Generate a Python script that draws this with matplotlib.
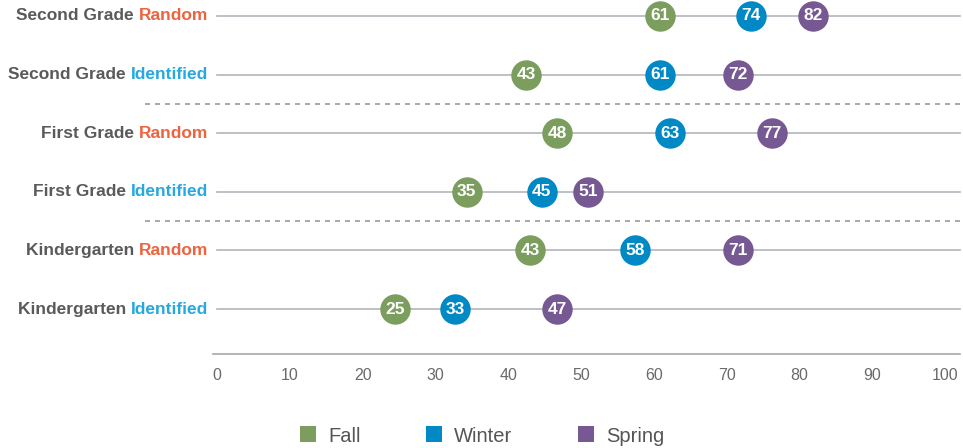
import matplotlib
matplotlib.use("Agg")
import matplotlib.pyplot as plt
from matplotlib.offsetbox import TextArea, HPacker, AnnotationBbox
from matplotlib.lines import Line2D

# rows, top to bottom
grades = ["Second Grade", "Second Grade", "First Grade", "First Grade",
          "Kindergarten", "Kindergarten"]
groups = ["Random", "Identified", "Random", "Identified", "Random", "Identified"]

# positions
fall = [60.9, 42.5, 46.7, 34.3, 43.0, 24.5]
winter = [73.4, 60.9, 62.2, 44.6, 57.4, 32.7]
spring = [81.9, 71.6, 76.2, 51.0, 71.6, 46.7]
# numbers printed in the dots
fall_lbl = [61, 43, 48, 35, 43, 25]
winter_lbl = [74, 61, 63, 45, 58, 33]
spring_lbl = [82, 72, 77, 51, 71, 47]

ticks = list(range(0, 101, 10))

c_fall = "#7b9e5e"
c_winter = "#0089c4"
c_spring = "#765992"
c_random = "#ec6440"
c_ident = "#27a8e0"
c_gray = "#5a5a5a"

plt.rcParams["font.family"] = ["Liberation Sans", "DejaVu Sans"]

W, H = 963, 448
fig = plt.figure(figsize=(W / 100, H / 100), dpi=100)
ax = fig.add_axes([213 / W, (H - 354) / H, (960 - 213) / W, 354 / H])

px = 7.28  # pixels per unit
x0 = -4 / px
x1 = (960 - 217) / px
ax.set_xlim(x0, x1)
step = 58.6
ax.set_ylim((354 - 16) / step, -16 / step)

for s in ax.spines.values():
    s.set_visible(False)
ax.spines["bottom"].set_visible(True)
ax.spines["bottom"].set_color("#a8a8a8")
ax.spines["bottom"].set_linewidth(1.2)
ax.set_yticks([])
ax.set_xticks(ticks)
ax.set_xticklabels([str(t) for t in ticks], fontsize=11.5, color="#6a6a6a")
ax.tick_params(axis="x", length=0, pad=10)

rows = range(len(grades))
for i in rows:
    ax.plot([0, x1], [i, i], color="#b4b4bc", lw=1.2, zorder=1, clip_on=False)

for y in [1.5, 3.5]:
    ax.plot([(145 - 217) / px, x1], [y, y], color="#999999", lw=1.2,
            ls=(0, (3, 3)), zorder=1, clip_on=False)

for vals, lbls, col in [(fall, fall_lbl, c_fall), (winter, winter_lbl, c_winter),
                        (spring, spring_lbl, c_spring)]:
    ax.scatter(vals, list(rows), s=480, color=col, zorder=3, clip_on=False, linewidths=0)
    for v, l, i in zip(vals, lbls, rows):
        ax.text(v, i, str(l), ha="center", va="center", color="white",
                fontsize=12.5, fontweight="bold", zorder=4)

for i, (g, grp) in enumerate(zip(grades, groups)):
    t1 = TextArea(g + " ", textprops=dict(color=c_gray, fontsize=12.5, fontweight="bold"))
    t2 = TextArea(grp, textprops=dict(color=c_random if grp == "Random" else c_ident,
                                      fontsize=12.5, fontweight="bold"))
    box = HPacker(children=[t1, t2], pad=0, sep=0, align="baseline")
    ab = AnnotationBbox(box, (-9 / px, i), xycoords="data", box_alignment=(1, 0.5),
                        frameon=False, pad=0, annotation_clip=False)
    ax.add_artist(ab)

handles = [Line2D([], [], ls="", marker="s", markersize=11, color=c, markeredgewidth=0)
           for c in [c_fall, c_winter, c_spring]]
fig.legend(handles, ["Fall", "Winter", "Spring"], loc="center", ncol=3,
           bbox_to_anchor=(0.5, 1 - 436 / H), frameon=False, fontsize=14.5,
           labelcolor="#555555", columnspacing=3.2, handletextpad=0.55, handlelength=0.9)

fig.savefig("out.png", dpi=100)
